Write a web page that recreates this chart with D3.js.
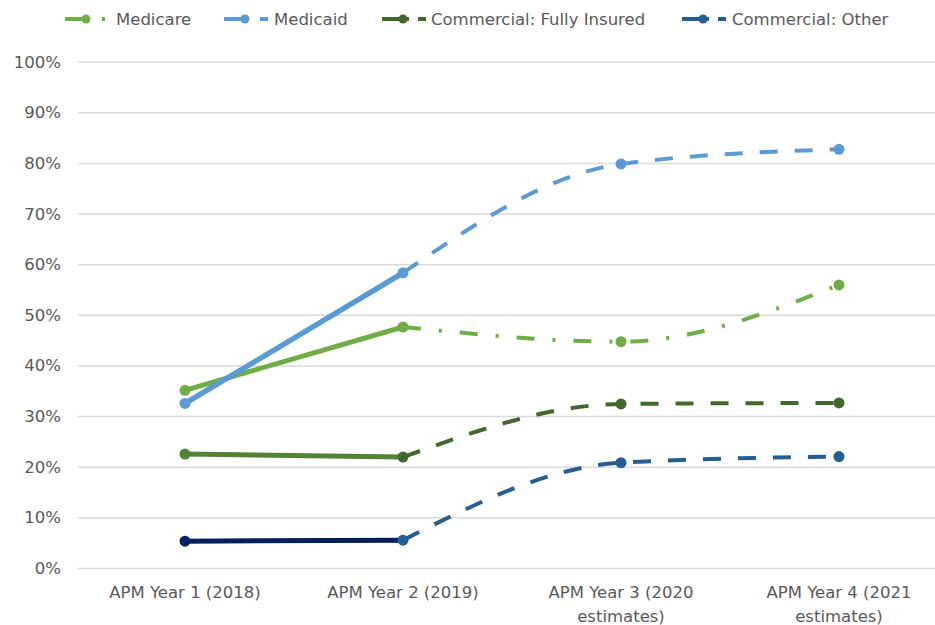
<!DOCTYPE html>
<meta charset="utf-8">
<style>
body { margin: 0; background: #fff; }
text { font-family: "DejaVu Sans", sans-serif; fill: #595959; }
.grid line { stroke: #d9d9d9; stroke-width: 1.5px; }
.grid path { display: none; }
</style>
<body>
<script src="https://d3js.org/d3.v7.min.js"></script>
<script>

// categories and tick labels
var categories = ["APM Year 1 (2018)", "APM Year 2 (2019)", "APM Year 3 (2020 estimates)", "APM Year 4 (2021 estimates)"];
var tickLines = [["APM Year 1 (2018)"], ["APM Year 2 (2019)"], ["APM Year 3 (2020", "estimates)"], ["APM Year 4 (2021", "estimates)"]];
var yTicks = [0, 10, 20, 30, 40, 50, 60, 70, 80, 90, 100];

// series values (percent)
var medicare = [35.1, 47.6, 44.7, 55.9];
var medicaid = [32.5, 58.3, 79.8, 82.7];
var commercialFully = [22.5, 21.9, 32.4, 32.6];
var commercialOther = [5.3, 5.5, 20.8, 22.0];

var seriesNames = ["Medicare", "Medicaid", "Commercial: Fully Insured", "Commercial: Other"];

var series = [
  {name: seriesNames[0], values: medicare, solid: "#70ad47", dashed: "#70ad47", dash: "18,18,3,18", legendDash: "25,12,3,40", lx: 65, tx: 116, w: 5},
  {name: seriesNames[1], values: medicaid, solid: "#5b9bd5", dashed: "#5b9bd5", dash: "18,17", legendDash: "25,11,11,40", lx: 224, tx: 274, w: 5.5},
  {name: seriesNames[2], values: commercialFully, solid: "#548235", dashed: "#43682b", dash: "18,17", legendDash: "27,9,9,40", lx: 382, tx: 431, w: 5},
  {name: seriesNames[3], values: commercialOther, solid: "#002060", dashed: "#255e91", dash: "18,17", legendDash: "27,9,11,40", lx: 682, tx: 732, w: 5}
];

var width = 935, height = 625;

var svg = d3.select("body").append("svg")
    .attr("width", width)
    .attr("height", height);

var x = d3.scalePoint().domain(categories).range([76, 948]).padding(0.5);
var y = d3.scaleLinear().domain([0, 100]).range([568, 61.7]);

// gridlines + y labels
svg.append("g")
    .attr("class", "grid")
    .attr("transform", "translate(78,0)")
    .call(d3.axisRight(y).tickValues(yTicks).tickSize(width - 78).tickFormat(""));

svg.append("g").selectAll("text")
    .data(yTicks)
  .enter().append("text")
    .attr("x", 61)
    .attr("y", function(d) { return y(d); })
    .attr("dy", "0.36em")
    .attr("text-anchor", "end")
    .style("font-size", "16.5px")
    .text(function(d) { return d + "%"; });

// x labels
var xl = svg.append("g").selectAll("text")
    .data(categories)
  .enter().append("text")
    .attr("x", function(d) { return x(d); })
    .attr("y", 598)
    .attr("text-anchor", "middle")
    .style("font-size", "16.5px");

xl.each(function(d, i) {
  var t = d3.select(this);
  tickLines[i].forEach(function(s, j) {
    t.append("tspan")
      .attr("x", x(d))
      .attr("dy", j === 0 ? 0 : 24)
      .text(s);
  });
});

var solidLine = d3.line()
    .x(function(d) { return x(categories[d.i]); })
    .y(function(d) { return y(d.v); });

var dashLine = d3.line()
    .x(function(d) { return x(categories[d.i]); })
    .y(function(d) { return y(d.v); })
    .curve(d3.curveMonotoneX);

function pts(vals) {
  return vals.map(function(v, i) { return {i: i, v: v}; });
}

// dashed estimate lines (year 2 onwards)
series.forEach(function(s) {
  var p = pts(s.values);
  svg.append("path")
      .datum(p.slice(1))
      .attr("fill", "none")
      .attr("stroke", s.dashed)
      .attr("stroke-width", 4)
      .attr("stroke-dasharray", s.dash)
      .attr("d", dashLine);
});

// solid actual lines (year 1 to year 2)
series.forEach(function(s) {
  var p = pts(s.values);
  svg.append("path")
      .datum(p.slice(0, 2))
      .attr("fill", "none")
      .attr("stroke", s.solid)
      .attr("stroke-width", s.w)
      .attr("stroke-linecap", "round")
      .attr("d", solidLine);
});

// markers
series.forEach(function(s) {
  var p = pts(s.values);
  svg.append("g").selectAll("circle")
      .data(p)
    .enter().append("circle")
      .attr("cx", function(d) { return x(categories[d.i]); })
      .attr("cy", function(d) { return y(d.v); })
      .attr("r", 5.5)
      .attr("fill", function(d) { return d.i === 0 ? s.solid : s.dashed; });
});

// legend
var lg = svg.append("g");
series.forEach(function(s) {
  lg.append("line")
      .attr("x1", s.lx).attr("x2", s.lx + 44)
      .attr("y1", 19).attr("y2", 19)
      .attr("stroke", s.dashed)
      .attr("stroke-width", 4)
      .attr("stroke-dasharray", s.legendDash);
  lg.append("circle")
      .attr("cx", s.lx + 21)
      .attr("cy", 19)
      .attr("r", 4.5)
      .attr("fill", s.dashed);
  lg.append("text")
      .attr("x", s.tx)
      .attr("y", 19)
      .attr("dy", "0.36em")
      .style("font-size", "16.5px")
      .text(s.name);
});

</script>
</body>
